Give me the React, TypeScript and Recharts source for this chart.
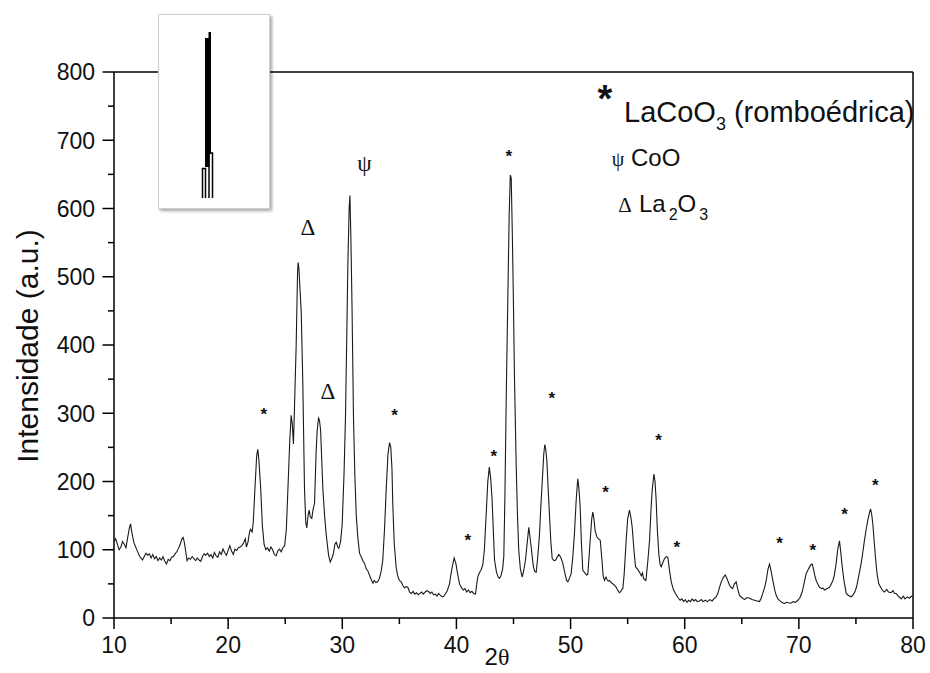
import React from 'react';
import { ComposedChart, Line, XAxis, YAxis, ReferenceLine, ReferenceDot } from 'recharts';

// XRD pattern, 2θ (degrees) vs intensity (a.u.)
const seg10to22: [number, number][] = [
  [10.0,112],[10.15,116],[10.3,108],[10.45,100],[10.6,104],[10.75,112],[10.9,108],[11.05,103],[11.2,118],[11.35,132],
  [11.45,138],[11.6,122],[11.75,110],[11.9,104],[12.05,98],[12.2,92],[12.35,88],[12.5,85],[12.65,90],[12.8,95],
  [12.95,92],[13.1,94],[13.25,88],[13.4,93],[13.55,87],[13.7,90],[13.85,84],[14.0,88],[14.15,85],[14.3,90],
  [14.45,83],[14.6,79],[14.75,86],[14.9,84],[15.05,89],[15.2,90],[15.35,94],[15.5,97],[15.65,102],[15.8,108],
  [15.95,116],[16.05,118],[16.15,112],[16.3,96],[16.4,84],[16.55,88],[16.7,86],[16.85,90],[17.0,87],[17.15,84],
  [17.3,88],[17.45,85],[17.6,83],[17.75,90],[17.9,94],[18.05,92],[18.2,95],[18.35,90],[18.5,93],[18.65,88],
  [18.8,96],[18.95,91],[19.1,89],[19.25,97],[19.4,93],[19.55,101],[19.7,96],[19.85,92],[20.0,99],[20.15,106],
  [20.3,98],[20.45,93],[20.6,101],[20.75,99],[20.9,103],[21.05,104],[21.2,106],[21.35,110],[21.5,116],[21.6,104],
  [21.75,112],[21.85,124],[21.95,130],
];
const seg22to36: [number, number][] = [
  [22.1,126],[22.2,140],[22.35,190],[22.5,238],[22.6,247],[22.7,230],[22.85,190],[23.0,135],[23.15,108],[23.3,100],
  [23.45,103],[23.6,98],[23.75,104],[23.9,100],[24.05,93],[24.2,91],[24.35,98],[24.5,101],[24.65,97],[24.8,103],
  [24.95,106],[25.1,130],[25.25,195],[25.4,260],[25.52,297],[25.62,284],[25.72,255],[25.8,300],[25.96,400],[26.08,505],
  [26.13,521],[26.2,512],[26.3,480],[26.4,450],[26.54,347],[26.69,189],[26.8,140],[26.89,132],[27.0,150],[27.1,158],
  [27.2,148],[27.33,146],[27.45,160],[27.57,168],[27.7,240],[27.8,275],[27.92,293],[28.0,290],[28.1,275],[28.3,189],
  [28.45,150],[28.6,121],[28.8,92],[28.94,82],[29.1,88],[29.23,95],[29.35,108],[29.47,111],[29.6,104],[29.7,102],
  [29.85,112],[29.99,137],[30.15,210],[30.28,294],[30.4,420],[30.49,519],[30.6,600],[30.67,619],[30.75,560],[30.85,460],
  [30.98,294],[31.1,210],[31.22,152],[31.35,120],[31.51,95],[31.65,90],[31.8,84],[31.95,80],[32.1,72],[32.24,69],
  [32.4,62],[32.55,56],[32.68,51],[32.8,55],[32.95,52],[33.1,53],[33.25,58],[33.4,68],[33.55,85],[33.7,130],
  [33.85,189],[34.0,240],[34.14,257],[34.25,250],[34.35,220],[34.43,164],[34.55,110],[34.72,74],[34.85,62],[35.0,55],
  [35.16,53],[35.3,48],[35.45,44],[35.6,46],[35.74,45],[35.9,38],
];
const seg36to53: [number, number][] = [
  [36.05,36],[36.2,39],[36.35,35],[36.5,37],[36.65,34],[36.8,36],[36.95,38],[37.1,35],[37.25,38],[37.4,40],
  [37.55,39],[37.7,36],[37.85,38],[38.0,34],[38.15,35],[38.3,32],[38.45,36],[38.6,33],[38.75,31],[38.9,32],
  [39.05,36],[39.2,40],[39.39,50],[39.6,72],[39.8,88],[39.95,80],[40.1,65],[40.27,50],[40.45,44],[40.6,41],
  [40.75,43],[40.9,38],[41.05,41],[41.2,37],[41.35,39],[41.5,36],[41.67,35],[41.8,52],[41.87,60],[42.0,66],
  [42.15,70],[42.31,78],[42.45,100],[42.6,150],[42.75,200],[42.88,221],[43.0,205],[43.13,172],[43.25,120],[43.34,85],
  [43.5,68],[43.65,60],[43.77,58],[43.9,62],[44.05,72],[44.15,90],[44.25,180],[44.36,319],[44.5,465],[44.62,590],
  [44.72,649],[44.8,645],[44.9,560],[45.0,455],[45.09,348],[45.24,221],[45.35,150],[45.46,99],[45.6,72],[45.76,60],
  [45.9,70],[46.05,85],[46.2,110],[46.34,133],[46.45,118],[46.55,104],[46.65,88],[46.75,75],[46.87,68],[46.99,67],
  [47.1,85],[47.2,105],[47.28,124],[47.4,165],[47.51,197],[47.65,240],[47.74,254],[47.82,248],[47.92,231],[48.05,185],
  [48.16,148],[48.28,110],[48.39,87],[48.55,84],[48.7,85],[48.85,90],[48.97,93],[49.1,90],[49.2,86],[49.32,80],
  [49.5,66],[49.65,55],[49.76,53],[49.9,58],[50.05,65],[50.2,90],[50.34,124],[50.5,175],[50.63,204],[50.73,190],
  [50.84,163],[50.95,110],[51.07,70],[51.25,66],[51.4,63],[51.51,64],[51.6,85],[51.72,114],[51.85,145],[51.95,155],
  [52.05,145],[52.15,128],[52.3,119],[52.45,116],[52.6,114],
];
const seg53to67: [number, number][] = [
  [52.75,85],[52.85,62],[52.97,55],[53.1,60],[53.2,56],[53.3,54],[53.41,55],[53.55,52],[53.7,50],[53.85,48],
  [54.0,45],[54.15,40],[54.29,37],[54.4,39],[54.5,42],[54.58,43],[54.7,65],[54.87,114],[55.0,145],[55.16,158],
  [55.28,148],[55.4,133],[55.55,100],[55.69,75],[55.85,72],[56.04,67],[56.2,62],[56.3,66],[56.39,58],[56.5,56],
  [56.6,55],[56.75,80],[56.92,114],[57.05,160],[57.15,187],[57.3,211],[57.4,200],[57.5,172],[57.6,130],[57.73,94],
  [57.85,78],[57.94,75],[58.1,82],[58.23,87],[58.4,90],[58.52,89],[58.65,72],[58.82,53],[59.0,42],[59.19,36],
  [59.4,30],[59.6,26],[59.75,28],[59.9,24],[60.05,27],[60.2,23],[60.35,26],[60.5,24],[60.65,28],[60.8,25],
  [60.95,27],[61.1,24],[61.3,25],[61.45,27],[61.6,24],[61.8,26],[62.0,24],[62.2,27],[62.4,25],[62.6,29],
  [62.75,31],[62.9,36],[63.05,45],[63.2,53],[63.4,60],[63.55,63],[63.7,58],[63.92,48],[64.05,45],[64.2,43],
  [64.35,50],[64.51,53],[64.65,42],[64.8,33],[65.0,30],[65.24,27],[65.45,30],[65.68,29],[65.9,27],[66.12,26],
  [66.35,25],[66.55,24],[66.7,29],[66.84,36],[67.0,45],
];
const seg67to80: [number, number][] = [
  [67.14,55],[67.3,72],[67.43,79],[67.55,70],[67.72,55],[67.9,40],[68.0,34],[68.16,28],[68.35,25],[68.5,23],
  [68.74,21],[68.9,23],[69.1,22],[69.33,22],[69.5,24],[69.7,23],[69.91,26],[70.1,30],[70.29,38],[70.45,50],
  [70.64,65],[70.85,72],[71.05,78],[71.17,79],[71.3,70],[71.4,62],[71.52,55],[71.65,50],[71.81,45],[72.0,43],
  [72.1,44],[72.25,41],[72.45,43],[72.69,45],[72.85,50],[72.98,55],[73.1,62],[73.27,80],[73.4,100],[73.56,113],
  [73.68,95],[73.8,75],[73.95,55],[74.15,36],[74.35,33],[74.59,31],[74.75,34],[74.9,38],[75.05,45],[75.17,55],
  [75.3,66],[75.46,80],[75.6,96],[75.75,114],[75.9,130],[76.04,143],[76.15,152],[76.28,160],[76.38,152],[76.48,138],
  [76.6,112],[76.71,89],[76.85,65],[77.0,50],[77.2,44],[77.35,40],[77.5,38],[77.7,42],[77.85,38],[78.08,37],
  [78.25,40],[78.4,36],[78.52,36],[78.7,32],[78.85,30],[78.97,28],[79.15,32],[79.3,28],[79.5,31],[79.7,29],
  [79.85,32],[80.0,31],
];

// Phase markers above peaks
const markX = [23.12, 26.98, 28.73, 31.95, 34.58, 41.0, 43.27, 44.59, 48.36, 53.06, 57.7, 59.31, 68.3, 71.22, 74.0, 76.69];
const markY = [303, 571, 331, 665, 302, 118, 242, 681, 327, 189, 265, 109, 114, 104, 157, 199];
const markSym = ['*', 'Δ', 'Δ', 'ψ', '*', '*', '*', '*', '*', '*', '*', '*', '*', '*', '*', '*'];

const xTicks = [10, 15, 20, 25, 30, 35, 40, 45, 50, 55, 60, 65, 70, 75, 80];
const yTicks = [0, 50, 100, 150, 200, 250, 300, 350, 400, 450, 500, 550, 600, 650, 700, 750, 800];

const spectrum = [...seg10to22, ...seg22to36, ...seg36to53, ...seg53to67, ...seg67to80].map(([x, y]) => ({ x, y }));
const marks = markX.map((x, i) => ({ x, y: markY[i], s: markSym[i] }));

const SANS = "'Liberation Sans', Arial, Helvetica, sans-serif";
const SERIF = "'Liberation Serif', 'Times New Roman', serif";

const YTick = (props: any) => {
  const { x, y, payload } = props;
  const v = payload.value;
  const major = v % 100 === 0;
  return (
    <g>
      <line x1={x - (major ? 11.5 : 6)} x2={x} y1={y} y2={y} stroke="#000" strokeWidth={1.5} />
      {major && (
        <text x={x - 19} y={y} dy="0.36em" textAnchor="end" fontSize={23} fill="#111" fontFamily={SANS}>
          {v}
        </text>
      )}
    </g>
  );
};

const XTick = (props: any) => {
  const { x, y, payload } = props;
  const v = payload.value;
  const major = v % 10 === 0;
  return (
    <g>
      <line x1={x} x2={x} y1={y} y2={y + (major ? 11 : 6)} stroke="#000" strokeWidth={1.5} />
      {major && (
        <text x={x} y={y + 35} textAnchor="middle" fontSize={23} fill="#111" fontFamily={SANS}>
          {v}
        </text>
      )}
    </g>
  );
};

const MarkShape = (s: string) => (p: any) => {
  const { cx, cy } = p;
  if (s === '*') {
    return (
      <text x={cx} y={cy + 9} textAnchor="middle" fontSize={17} fontWeight="bold" fill="#111" fontFamily={SANS}>
        *
      </text>
    );
  }
  return (
    <text x={cx} y={cy + 7} textAnchor="middle" fontSize={23} fill="#111" fontFamily={SERIF}>
      {s}
    </text>
  );
};

export default function App() {
  return (
    <div style={{ position: 'absolute', left: 0, top: 0, width: 930, height: 673, background: '#fff' }}>
      <ComposedChart
        width={930}
        height={673}
        data={spectrum}
        margin={{ top: 72, right: 17, bottom: 15, left: 14 }}
      >
        <XAxis
          dataKey="x"
          type="number"
          domain={[10, 80]}
          ticks={xTicks}
          interval={0}
          allowDataOverflow
          height={40}
          axisLine={{ stroke: '#000', strokeWidth: 1.5 }}
          tickLine={false}
          tickSize={0}
          tickMargin={0}
          tick={<XTick />}
        />
        <YAxis
          type="number"
          domain={[0, 800]}
          ticks={yTicks}
          interval={0}
          allowDataOverflow
          width={100}
          axisLine={{ stroke: '#000', strokeWidth: 1.5 }}
          tickLine={false}
          tickSize={0}
          tickMargin={0}
          tick={<YTick />}
        />
        <ReferenceLine y={800} stroke="#000" strokeWidth={1.5} />
        <ReferenceLine x={80} stroke="#000" strokeWidth={1.5} />
        <Line
          type="linear"
          dataKey="y"
          stroke="#1a1a1a"
          strokeWidth={1.1}
          dot={false}
          activeDot={false}
          isAnimationActive={false}
        />
        {marks.map((m, i) => (
          <ReferenceDot key={i} x={m.x} y={m.y} r={0} ifOverflow="visible" shape={MarkShape(m.s)} />
        ))}
      </ComposedChart>

      {/* text overlay: legend and axis titles */}
      <svg width={930} height={673} style={{ position: 'absolute', left: 0, top: 0, pointerEvents: 'none', overflow: 'visible' }}>
        <text x={605} y={112} textAnchor="middle" fontSize={38} fontWeight="bold" fill="#111" fontFamily={SANS}>*</text>
        <text x={624} y={122} fontSize={29} fill="#111" fontFamily={SANS}>
          LaCoO<tspan fontSize={18} dy={8}>3</tspan><tspan dy={-8}> (romboédrica)</tspan>
        </text>
        <text x={618} y={166} textAnchor="middle" fontSize={20} fill="#111" fontFamily={SERIF}>ψ</text>
        <text x={631} y={166} fontSize={24} fill="#111" fontFamily={SANS}>CoO</text>
        <text x={625} y={212} textAnchor="middle" fontSize={21} fill="#111" fontFamily={SERIF}>Δ</text>
        <text x={639} y={212} fontSize={24} fill="#111" fontFamily={SANS}>
          La<tspan fontSize={16} dx={3} dy={8}>2</tspan><tspan dy={-8}>O</tspan><tspan fontSize={16} dx={3} dy={8}>3</tspan>
        </text>
        <text x={497} y={665} textAnchor="middle" fontSize={24} fill="#111" fontFamily={SANS}>
          2<tspan fontFamily={SERIF}>θ</tspan>
        </text>
        <text
          x={0}
          y={0}
          transform="translate(38,346) rotate(-90)"
          textAnchor="middle"
          fontSize={30}
          fill="#111"
          fontFamily={SANS}
        >
          Intensidade (a.u.)
        </text>
      </svg>

      {/* inset picture */}
      <div
        style={{
          position: 'absolute',
          left: 158,
          top: 14,
          width: 110,
          height: 193,
          background: '#fff',
          border: '1px solid #cfcfcf',
          boxShadow: '2px 2px 3px rgba(0,0,0,0.35)',
        }}
      >
        <svg width={110} height={193} style={{ position: 'absolute', left: -1, top: -1 }}>
          <g transform="translate(-158,-14)">
            <rect x={205} y={38} width={4.5} height={129} fill="#000" />
            <rect x={208.5} y={32} width={2.5} height={122} fill="#000" />
            <path d="M202.5 198 V168.5 H205.5 V198" stroke="#000" strokeWidth={1.5} fill="none" />
            <path d="M209 198 V153 H212.5 V198" stroke="#000" strokeWidth={1.5} fill="none" />
          </g>
        </svg>
      </div>
    </div>
  );
}
